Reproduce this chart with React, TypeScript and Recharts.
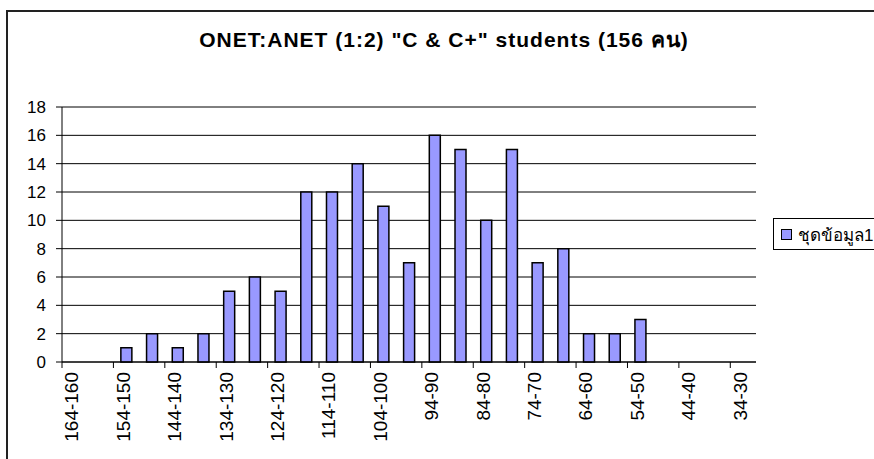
import React from 'react';
import { BarChart, Bar, XAxis, YAxis, CartesianGrid } from 'recharts';

const categories = [
  '164-160', '159-155', '154-150', '149-145', '144-140', '139-135', '134-130',
  '129-125', '124-120', '119-115', '114-110', '109-105', '104-100', '99-95',
  '94-90', '89-85', '84-80', '79-75', '74-70', '69-65', '64-60', '59-55',
  '54-50', '49-45', '44-40', '39-35', '34-30',
];
const counts = [
  0, 0, 1, 2, 1, 2, 5, 6, 5, 12, 12, 14, 11, 7, 16, 15, 10, 15, 7, 8, 2, 2, 3, 0, 0, 0, 0,
];
const yTicks = [0, 2, 4, 6, 8, 10, 12, 14, 16, 18];

const title = 'ONET:ANET (1:2) "C & C+" students (156 คน)';
const seriesName = 'ชุดข้อมูล1';

const FONT = '"Liberation Sans", Arial, sans-serif';
const BAR_FILL = '#9999FF';

const data = categories.map((c, i) => ({ range: c, value: counts[i] }));

const XTick = (props: any) => {
  const { x, y, payload } = props;
  const half = payload && payload.offset ? payload.offset : 12.85;
  return (
    <g>
      <line x1={x - half} x2={x - half} y1={y - 8} y2={y - 2} stroke="#000" />
      <text
        x={0}
        y={0}
        transform={`translate(${x + 3.5}, ${y + 2}) rotate(-90)`}
        textAnchor="end"
        fontSize={19}
        fontFamily={FONT}
        fill="#000"
      >
        {payload.value}
      </text>
    </g>
  );
};

const App: React.FC = () => {
  return (
    <div
      style={{
        position: 'absolute',
        left: 0,
        top: 0,
        width: 874,
        height: 459,
        overflow: 'hidden',
        background: '#fff',
        fontFamily: FONT,
      }}
    >
      <div
        style={{
          position: 'absolute',
          left: 6,
          top: 10,
          width: 900,
          height: 480,
          border: '2px solid #222',
        }}
      />
      <div
        style={{
          position: 'absolute',
          left: 0,
          width: 888,
          top: 28,
          textAlign: 'center',
          fontWeight: 'bold',
          fontSize: 21,
          letterSpacing: 1,
          lineHeight: '24px',
          color: '#000',
        }}
      >
        {title}
      </div>
      <div style={{ position: 'absolute', left: 0, top: 0 }}>
        <BarChart
          width={874}
          height={459}
          data={data}
          margin={{ top: 107, right: 118, left: 22, bottom: 7 }}
          barCategoryGap="29%"
        >
          <CartesianGrid vertical={false} stroke="#000" strokeOpacity={1} />
          <XAxis
            dataKey="range"
            interval={1}
            height={90}
            axisLine={{ stroke: '#000' }}
            tickLine={false}
            tick={<XTick />}
          />
          <XAxis xAxisId="top" orientation="top" dataKey="range" height={0} tick={false} tickLine={false} axisLine={{ stroke: '#888' }} />
          <YAxis
            domain={[0, 18]}
            ticks={yTicks}
            width={40}
            interval={0}
            tickSize={6}
            tickMargin={10}
            axisLine={{ stroke: '#000' }}
            tickLine={{ stroke: '#000' }}
            tick={{ fill: '#000', fontSize: 17, fontFamily: FONT }}
          />
          <YAxis yAxisId="right" orientation="right" width={0} tick={false} tickLine={false} axisLine={{ stroke: '#888' }} />
          <Bar
            dataKey="value"
            name={seriesName}
            fill={BAR_FILL}
            stroke="#000"
            strokeWidth={1.5}
            isAnimationActive={false}
          />
        </BarChart>
      </div>
      <div
        style={{
          position: 'absolute',
          left: 773,
          top: 218,
          width: 110,
          height: 30,
          border: '1px solid #000',
          background: '#fff',
          display: 'flex',
          alignItems: 'center',
        }}
      >
        <span
          style={{
            display: 'inline-block',
            width: 9,
            height: 9,
            marginLeft: 7,
            marginRight: 6,
            background: BAR_FILL,
            border: '1.5px solid #000',
          }}
        />
        <span style={{ fontSize: 17, color: '#000' }}>{seriesName}</span>
      </div>
    </div>
  );
};

export default App;
